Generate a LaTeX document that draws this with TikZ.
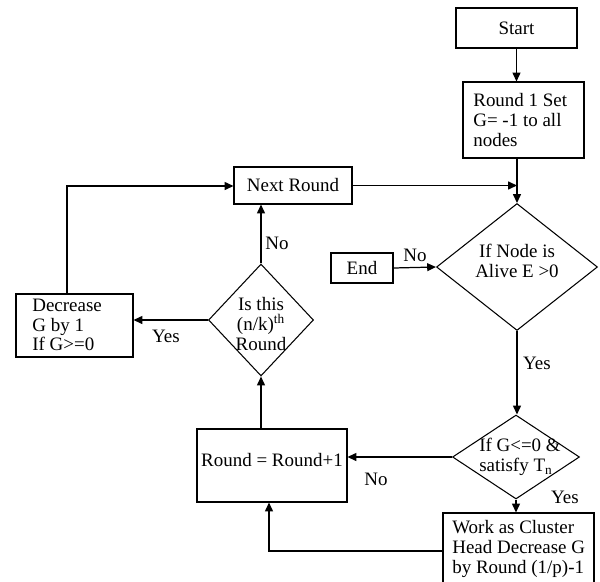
\documentclass[tikz,border=0pt]{standalone}
\usepackage{fontspec}
\setmainfont{Liberation Serif}
\usetikzlibrary{shapes.geometric,arrows.meta}
\begin{document}
\begin{tikzpicture}[x=0.02cm,y=-0.02cm,
  every node/.style={font=\fontsize{10.8}{11.2}\selectfont},
  box/.style={draw,line width=0.6pt,inner sep=0pt},
  dia/.style={draw,diamond,line width=0.6pt,inner sep=0pt},
  txt/.style={inner sep=0pt},
  arr/.style={line width=0.7pt,-{Triangle[length=5pt,width=4.5pt]}},
  ln/.style={line width=0.7pt}]
\useasboundingbox (0,0) rectangle (600,582);
% boxes
\node[box,minimum width=2.42cm,minimum height=0.8cm] (start) at (516.5,28) {Start};
\node[box,minimum width=2.42cm,minimum height=1.52cm] (r1) at (523.5,120) {};
\node[txt,align=left,anchor=west] (r1t) at (473,120) {Round 1 Set\\G= -1 to all\\nodes};
\node[box,minimum width=2.36cm,minimum height=0.74cm] (next) at (293,185.5) {Next Round};
\node[dia,minimum width=3.22cm,minimum height=2.54cm] (alive) at (517,267) {};
\node[txt,align=center] (alivet) at (517,261) {If Node is\\Alive E >0};
\node[box,minimum width=1.24cm,minimum height=0.6cm] (end) at (362,268) {End};
\node[dia,minimum width=2.54cm,minimum height=1.68cm] (d2) at (516,457) {};
\node[txt,align=left] (d2t) at (520,457) {If G<=0 \&\\satisfy T\textsubscript{n}};
\node[box,minimum width=3cm,minimum height=1.46cm] (round) at (272,465.5) {};
\node[txt] (roundt) at (272,460) {Round = Round+1};
\node[box,minimum width=3.02cm,minimum height=1.54cm] (work) at (518.5,551.5) {};
\node[txt,align=left,anchor=west] (workt) at (452,549) {Work as Cluster\\Head Decrease G\\by Round (1/p)-1};
\node[dia,minimum width=2.1cm,minimum height=2.24cm] (d3) at (261,320) {};
\node[txt,align=center] (d3t) at (261,324) {Is this\\(n/k)\textsuperscript{th}\\Round};
\node[box,minimum width=2.34cm,minimum height=1.26cm] (dec) at (74.5,325.5) {};
\node[txt,align=left,anchor=west] (dect) at (32,325) {Decrease\\G by 1\\If G>=0};
% connectors
\draw[arr] (start.south) -- (start.south |- r1.north);
\draw[arr] (r1.south -| alive.north) -- (alive.north);
\draw[arr] (next.east) -- (next.east -| alive.north);
\draw[arr] (end.east) -- (alive.west);
\draw[arr] (alive.south) -- (alive.south |- d2.north);
\draw[arr] (d2.west) -- (d2.west -| round.east);
\draw[arr] (d2.south) -- (d2.south |- work.north);
\coordinate (c2) at (269,551);
\draw[arr] (work.west |- c2) -- (c2) -- (c2 |- round.south);
\draw[arr] (round.north -| d3.south) -- (d3.south);
\draw[arr] (d3.north) -- (next.south -| d3.north);
\draw[arr] (d3.west) -- (d3.west -| dec.east);
\coordinate (c1) at (67,186);
\draw[arr] (dec.north -| c1) -- (c1) -- (c1 -| next.west);
% labels
\node[txt] (l1) at (415,255) {No};
\node[txt] (l2) at (537,363) {Yes};
\node[txt] (l3) at (376,479) {No};
\node[txt] (l4) at (565,497) {Yes};
\node[txt] (l5) at (277,243) {No};
\node[txt] (l6) at (166,336) {Yes};
\end{tikzpicture}
\end{document}
